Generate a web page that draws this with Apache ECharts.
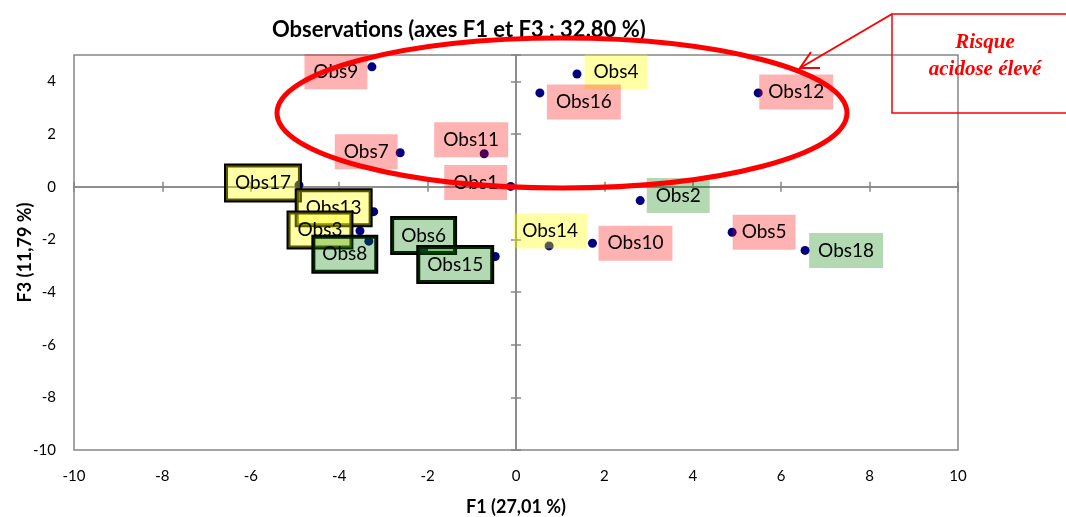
<!DOCTYPE html>
<html><head><meta charset="utf-8">
<script src="https://cdn.jsdelivr.net/npm/echarts@6/dist/echarts.min.js"></script>
<style>html,body{margin:0;padding:0;background:#fff}#c{width:1066px;height:517px}</style>
</head><body><div id="c"></div>
<script>
// ---- data ----
const obsNames = ['Obs1','Obs2','Obs3','Obs4','Obs5','Obs6','Obs7','Obs8','Obs9','Obs10','Obs11','Obs12','Obs13','Obs14','Obs15','Obs16','Obs17','Obs18'];
const f1Values = [-0.12, 2.81, -3.53, 1.38, 4.89, -2.09, -2.62, -3.33, -3.26, 1.73, -0.72, 5.48, -3.22, 0.75, -0.47, 0.54, -4.91, 6.54];
const f3Values = [0.01, -0.53, -1.68, 4.28, -1.73, -2.39, 1.29, -2.07, 4.55, -2.15, 1.25, 3.56, -0.95, -2.25, -2.65, 3.56, 0.06, -2.42];
// risk group of each observation: 'high' (pink), 'mid' (yellow), 'low' (green)
const obsGroups = ['high','low','mid','mid','high','low','high','low','high','high','high','high','mid','mid','low','high','mid','low'];
// observations whose label is framed
const framedObs = ['Obs17','Obs13','Obs3','Obs8','Obs6','Obs15'];
const xTicks = {min: -10, max: 10, step: 2};
const yTicks = {min: -10, max: 5, step: 2};
const titleText = 'Observations (axes F1 et F3 : 32.80 %)';
const xName = 'F1 (27,01 %)';
const yName = 'F3 (11,79 %)';
const noteText = 'Risque\nacidose élevé';

// ---- layout / style (label offsets in pixels) ----
const labelOffsets = {
  Obs1:[-35,-4], Obs2:[38,-5], Obs3:[-40,-1], Obs4:[39,-2], Obs5:[32,0], Obs6:[0,-14],
  Obs7:[-34,-1], Obs8:[-24,13], Obs9:[-36,5], Obs10:[43,0], Obs11:[-13,-14], Obs12:[38,-1],
  Obs13:[-40,-4], Obs14:[1,-15], Obs15:[-40,8], Obs16:[44,9], Obs17:[-36,-2], Obs18:[41,0]
};
const groupColors = {high:'rgba(255,0,0,0.30)', mid:'rgba(255,255,0,0.35)', low:'rgba(0,128,0,0.30)'};
const drawOrder = ['Obs1','Obs2','Obs4','Obs5','Obs7','Obs9','Obs10','Obs11','Obs12','Obs14','Obs16','Obs18','Obs17','Obs13','Obs3','Obs8','Obs6','Obs15'];

const data = drawOrder.map(n => {
  const i = obsNames.indexOf(n);
  const framed = framedObs.includes(n);
  return {
    name: n,
    value: [f1Values[i], f3Values[i]],
    label: {
      show: true, formatter: '{b}', position: 'inside',
      color: '#000', fontFamily: 'Lato', fontSize: 19,
      backgroundColor: groupColors[obsGroups[i]],
      borderColor: framed ? '#000' : 'transparent',
      borderWidth: framed ? 2 : 0,
      padding: [7, 9, 7, 9], lineHeight: 21
    }
  };
});

const grey = '#868686';
const baseX = {type:'value', min:xTicks.min, max:xTicks.max, interval:xTicks.step, splitLine:{show:false}};
const baseY = {type:'value', min:yTicks.min, max:yTicks.max, interval:yTicks.step, splitLine:{show:false}};

const chart = echarts.init(document.getElementById('c'), null, {renderer:'canvas'});
chart.setOption({
  animation: false,
  backgroundColor: '#fff',
  title: {text: titleText, left: 267, top: 14, textStyle:{fontFamily:'Lato', fontSize:22, fontWeight:'bold', color:'#000'}},
  grid: {left:74, right:108, top:55, bottom:67, show:true, borderColor:grey, borderWidth:1.5, backgroundColor:'transparent',
         containLabel:false, outerBoundsMode:'none'},
  xAxis: [
    Object.assign({}, baseX, {position:'bottom', axisLine:{show:false, onZero:false}, axisTick:{show:false},
      axisLabel:{fontFamily:'Lato', fontSize:15, color:'#000', margin:19},
      name:xName, nameLocation:'middle', nameGap:48, nameMoveOverlap:false,
      nameTextStyle:{fontFamily:'Lato', fontSize:18, fontWeight:'bold', color:'#000'}}),
    Object.assign({}, baseX, {position:'bottom', axisLine:{show:true, onZero:true, onZeroAxisIndex:0, lineStyle:{color:grey, width:1.5}},
      axisTick:{show:true, length:5, lineStyle:{color:grey, width:1.5}}, axisLabel:{show:false}}),
    Object.assign({}, baseX, {position:'top', axisLine:{show:true, onZero:true, onZeroAxisIndex:0, lineStyle:{color:grey, width:1.5}},
      axisTick:{show:true, length:5, lineStyle:{color:grey, width:1.5}}, axisLabel:{show:false}})
  ],
  yAxis: [
    Object.assign({}, baseY, {position:'left', axisLine:{show:false, onZero:false}, axisTick:{show:false},
      axisLabel:{fontFamily:'Lato', fontSize:15, color:'#000', margin:18, showMaxLabel:false},
      name:yName, nameLocation:'middle', nameGap:40, nameMoveOverlap:false,
      nameTextStyle:{fontFamily:'Lato', fontSize:18, fontWeight:'bold', color:'#000'}}),
    Object.assign({}, baseY, {position:'left', axisLine:{show:true, onZero:true, onZeroAxisIndex:0, lineStyle:{color:grey, width:1.5}},
      axisTick:{show:true, length:5, lineStyle:{color:grey, width:1.5}}, axisLabel:{show:false}}),
    Object.assign({}, baseY, {position:'right', axisLine:{show:true, onZero:true, onZeroAxisIndex:0, lineStyle:{color:grey, width:1.5}},
      axisTick:{show:true, length:5, lineStyle:{color:grey, width:1.5}}, axisLabel:{show:false}})
  ],
  series: [{
    type: 'scatter', xAxisIndex:0, yAxisIndex:0,
    symbol: 'circle', symbolSize: 9,
    itemStyle: {color:'#000080', opacity:1},
    labelLayout: function (p) {
      const off = labelOffsets[data[p.dataIndex].name];
      return {dx: off[0], dy: off[1], hideOverlap: false};
    },
    data: data
  }],
  graphic: [
    {type:'ellipse', shape:{cx:562, cy:113, rx:285, ry:75}, style:{fill:null, stroke:'#FF0000', lineWidth:5}, z:100},
    {type:'rect', shape:{x:892, y:14, width:200, height:99}, style:{fill:null, stroke:'#FF0000', lineWidth:1.5}, z:100},
    {type:'text', x:985, y:56, style:{text:noteText, fill:'#FF0000', font:'italic bold 21px "Liberation Serif"', align:'center', verticalAlign:'middle', lineHeight:27}, z:101},
    {type:'polyline', shape:{points:[[892,14],[800,68]]}, style:{stroke:'#FF0000', lineWidth:2, fill:null}, z:100},
    {type:'polyline', shape:{points:[[811,52],[800,68],[820,68]]}, style:{stroke:'#FF0000', lineWidth:2, fill:null}, z:100}
  ]
});
</script></body></html>
